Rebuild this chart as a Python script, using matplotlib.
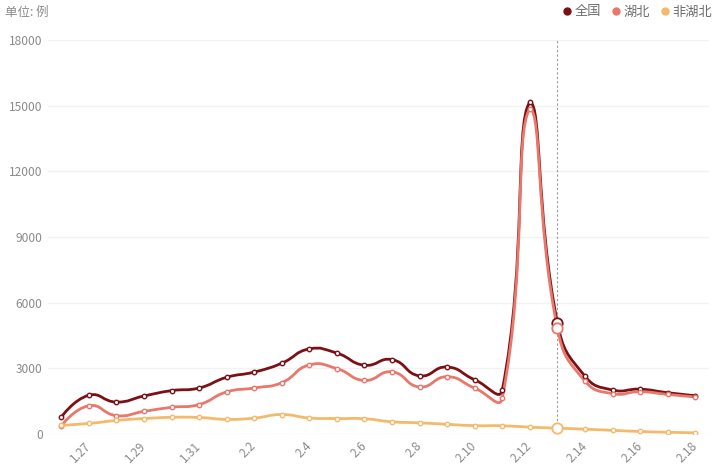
import numpy as np
import matplotlib.pyplot as plt
from matplotlib.path import Path
from matplotlib.patches import PathPatch
from matplotlib.lines import Line2D

plt.rcParams['font.family'] = ['Noto Sans CJK SC', 'DejaVu Sans']

# DATA ----------------
dates = ['1.26', '1.27', '1.28', '1.29', '1.30', '1.31', '2.1', '2.2', '2.3', '2.4', '2.5', '2.6',
         '2.7', '2.8', '2.9', '2.10', '2.11', '2.12', '2.13', '2.14', '2.15', '2.16', '2.17', '2.18']
national = [769, 1771, 1459, 1737, 1982, 2102, 2590, 2829, 3235, 3887, 3694, 3143,
            3399, 2656, 3062, 2478, 2015, 15152, 5090, 2641, 2009, 2048, 1886, 1749]
hubei = [371, 1291, 840, 1032, 1220, 1347, 1921, 2103, 2345, 3156, 2987, 2447,
         2841, 2147, 2618, 2097, 1638, 14840, 4823, 2420, 1843, 1933, 1807, 1693]
non_hubei = [398, 480, 619, 705, 762, 755, 669, 726, 890, 731, 707, 696,
             558, 509, 444, 381, 377, 312, 267, 221, 166, 115, 79, 56]
series_names = ['全国', '湖北', '非湖北']
y_ticks = [0, 3000, 6000, 9000, 12000, 15000, 18000]
hover_idx = 18

#COLORS ----------------
COLOR_NATIONAL = '#7b1015'
COLOR_HUBEI = '#e9776b'
COLOR_NON_HUBEI = '#f5b96b'
COLOR_TEXT = '#8a8a8a'
COLOR_GRID = '#f2f2f2'


def smooth_path(ax, xs, ys, smooth=0.5):
    '''Bezier path through the points, like the echarts smooth line (pixel space, bbox constraint).'''
    pts = ax.transData.transform(np.column_stack([xs, ys]))
    lo, hi = pts.min(axis=0), pts.max(axis=0)
    n = len(pts)
    verts = [pts[0]]
    codes = [Path.MOVETO]
    cp0 = pts[0].copy()
    for i in range(1, n):
        p = pts[i]
        prev = pts[i - 1]
        if i == n - 1:
            cp1 = p.copy()
            v = np.zeros(2)
            ratio = 0.5
        else:
            nxt = pts[i + 1]
            v = nxt - prev
            len_prev = np.hypot(*(p - prev))
            len_next = np.hypot(*(nxt - p))
            ratio = len_next / (len_next + len_prev)
            cp1 = p - v * smooth * (1 - ratio)
        cp0 = np.clip(cp0, lo, hi)
        cp1 = np.clip(cp1, lo, hi)
        verts += [cp0, cp1, p]
        codes += [Path.CURVE4] * 3
        cp0 = p + v * smooth * ratio
    verts = ax.transData.inverted().transform(np.array(verts))
    return Path(verts, codes)


fig = plt.figure(figsize=(7.2, 4.76), dpi=100)
ax = fig.add_axes([47.5 / 720, 42 / 476, 661.5 / 720, 394 / 476])
x = np.arange(len(dates))
ax.set_xlim(-0.5, len(dates) - 0.5)
ax.set_ylim(0, 18000)

for name, values, color in zip(series_names, [national, hubei, non_hubei],
                               [COLOR_NATIONAL, COLOR_HUBEI, COLOR_NON_HUBEI]):
    path = smooth_path(ax, x, values)
    ax.add_patch(PathPatch(path, facecolor='none', edgecolor=color, lw=2, zorder=3))
    ax.plot(x, values, ls='none', marker='o', ms=3.2, mfc='white', mec=color, mew=1, zorder=4)
    ax.plot(x[hover_idx], values[hover_idx], ls='none', marker='o', ms=7.5,
            mfc='white', mec=color, mew=1.3, zorder=5)

ax.axvline(hover_idx, color='#999999', lw=0.8, ls=(0, (2, 2)), zorder=2)

ax.set_yticks(y_ticks)
ax.set_yticklabels([str(v) for v in y_ticks])
ax.grid(axis='y', color=COLOR_GRID, lw=1)
ax.set_xticks(x[1::2])
ax.set_xticklabels(dates[1::2], rotation=45, ha='right', va='center', rotation_mode='anchor')
ax.tick_params(axis='x', length=0, pad=7, labelsize=8.6, labelcolor=COLOR_TEXT)
ax.tick_params(axis='y', length=0, pad=3.5, labelsize=8.6, labelcolor=COLOR_TEXT)
for s in ax.spines.values():
    s.set_visible(False)
ax.set_axisbelow(True)

fig.text(5 / 720, 1 - 12 / 476, '单位: 例', fontsize=9, color=COLOR_TEXT, va='center', ha='left')

handles = [Line2D([], [], ls='none', marker='o', ms=5, color=c)
           for c in [COLOR_NATIONAL, COLOR_HUBEI, COLOR_NON_HUBEI]]
leg = fig.legend(handles, series_names, loc='center right', bbox_to_anchor=(712 / 720, 1 - 12 / 476),
                 ncol=3, frameon=False, handlelength=0.55, handletextpad=0.3, columnspacing=0.85,
                 fontsize=9.5, borderaxespad=0, borderpad=0)
for t in leg.get_texts():
    t.set_color('#6e6e6e')

fig.savefig('out.png', dpi=100)
